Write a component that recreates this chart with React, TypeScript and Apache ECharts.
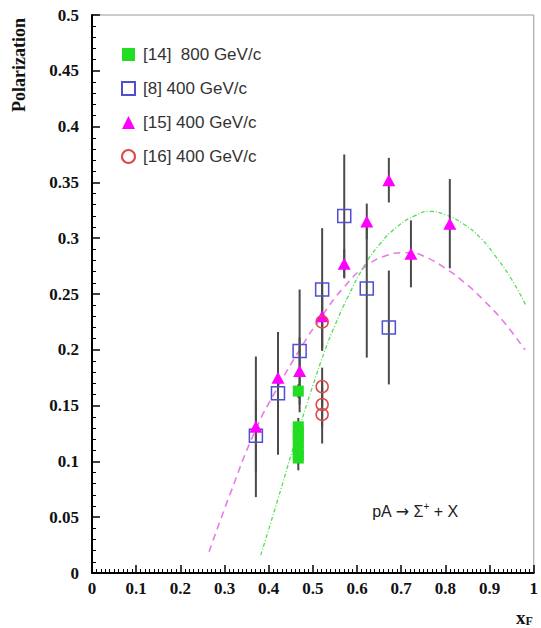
import React, { useEffect, useRef } from "react";
import * as echarts from "echarts";

// [14] 800 GeV/c (green filled squares)
const s14X = [0.467, 0.467, 0.467, 0.467, 0.467, 0.467, 0.467, 0.467];
const s14Y = [0.163, 0.131, 0.127, 0.122, 0.117, 0.111, 0.106, 0.103];
const s14Err = [0.006, 0.008, 0.008, 0.008, 0.008, 0.008, 0.008, 0.011];

// [8] 400 GeV/c (blue open squares)
const s8X = [0.371, 0.421, 0.47, 0.521, 0.571, 0.622, 0.672];
const s8Y = [0.123, 0.161, 0.199, 0.254, 0.32, 0.255, 0.22];
const s8Err = [0.032, 0.055, 0.055, 0.055, 0.055, 0.062, 0.051];

// [15] 400 GeV/c (magenta triangles)
const s15X = [0.371, 0.421, 0.47, 0.521, 0.571, 0.622, 0.672, 0.722, 0.81];
const s15Y = [0.131, 0.175, 0.181, 0.23, 0.277, 0.315, 0.352, 0.286, 0.313];
const s15Err = [0.063, 0.04, 0.03, 0.03, 0.013, 0.016, 0.02, 0.03, 0.04];

// [16] 400 GeV/c (red open circles)
const s16X = [0.521, 0.521, 0.521, 0.521];
const s16Y = [0.225, 0.167, 0.151, 0.142];
const s16Err = [0.022, 0.017, 0.02, 0.026];

// fit curves
const magentaCurveX = [0.265, 0.31, 0.37, 0.42, 0.47, 0.52, 0.57, 0.62, 0.67, 0.7, 0.72, 0.75, 0.8, 0.85, 0.885, 0.93, 0.98];
const magentaCurveY = [0.019, 0.068, 0.128, 0.166, 0.2, 0.23, 0.256, 0.275, 0.285, 0.287, 0.287, 0.284, 0.273, 0.258, 0.245, 0.226, 0.2];

const greenCurveX = [0.382, 0.42, 0.46, 0.5, 0.526, 0.55, 0.58, 0.616, 0.65, 0.69, 0.73, 0.765, 0.8, 0.84, 0.88, 0.915, 0.95, 0.982];
const greenCurveY = [0.016, 0.065, 0.118, 0.168, 0.198, 0.222, 0.248, 0.275, 0.294, 0.31, 0.32, 0.324, 0.321, 0.313, 0.3, 0.283, 0.263, 0.24];

const legendNames = ["[14]  800 GeV/c", "[8] 400 GeV/c", "[15] 400 GeV/c", "[16] 400 GeV/c"];

const pts = (xs: number[], ys: number[]) => xs.map((x, i) => [x, ys[i]]);
const errs = (xs: number[], ys: number[], es: number[]) =>
  xs.map((x, i) => [x, ys[i] - es[i], ys[i] + es[i]]);

const fmt = (v: number) => String(Math.round(v * 100) / 100);

export default function App() {
  const ref = useRef<HTMLDivElement>(null);
  useEffect(() => {
    if (!ref.current) return;
    const chart = echarts.init(ref.current, null, { renderer: "svg" });
    const errorData = [
      ...errs(s14X, s14Y, s14Err),
      ...errs(s8X, s8Y, s8Err),
      ...errs(s15X, s15Y, s15Err),
      ...errs(s16X, s16Y, s16Err),
    ];
    const axisLabel = {
      fontFamily: "Liberation Serif",
      fontWeight: "bold" as const,
      fontSize: 17,
      color: "#111",
      formatter: fmt,
    };
    chart.setOption({
      animation: false,
      backgroundColor: "#fff",
      grid: {
        left: 92,
        top: 15,
        width: 446,
        height: 558,
        show: true,
        borderColor: "#999",
        borderWidth: 1,
        backgroundColor: "#fff",
      },
      xAxis: {
        type: "value",
        min: 0,
        max: 1,
        interval: 0.1,
        axisLine: { show: true, onZero: false, lineStyle: { color: "#000", width: 2 } },
        axisTick: { show: true, inside: true, length: 8, lineStyle: { color: "#000", width: 1.5 } },
        minorTick: { show: true, splitNumber: 10, length: 4, lineStyle: { color: "#000", width: 1 } },
        splitLine: { show: false },
        axisLabel: { ...axisLabel, margin: 7 },
      },
      yAxis: {
        type: "value",
        min: 0,
        max: 0.5,
        interval: 0.05,
        axisLine: { show: true, onZero: false, lineStyle: { color: "#000", width: 2 } },
        axisTick: { show: true, inside: true, length: 8, lineStyle: { color: "#000", width: 1.5 } },
        minorTick: { show: true, splitNumber: 5, length: 4, lineStyle: { color: "#000", width: 1 } },
        splitLine: { show: false },
        axisLabel: { ...axisLabel, margin: 13 },
      },
      legend: {
        orient: "vertical",
        left: 116,
        top: 41,
        itemWidth: 13,
        itemHeight: 13,
        itemGap: 17,
        data: legendNames,
        textStyle: {
          fontFamily: "Liberation Sans",
          fontSize: 17,
          color: "#333",
          padding: [0, 0, 0, 3],
        },
      },
      graphic: [
        {
          type: "text",
          x: 19,
          y: 65,
          rotation: Math.PI / 2,
          style: {
            text: "Polarization",
            fontFamily: "Liberation Serif",
            fontWeight: "bold",
            fontSize: 18,
            fill: "#111",
            align: "center",
            verticalAlign: "middle",
          },
        },
        {
          type: "text",
          x: 516,
          y: 617,
          style: {
            text: "{a|x}{b|F}",
            align: "left",
            verticalAlign: "middle",
            rich: {
              a: { fontFamily: "Liberation Serif", fontWeight: "bold", fontSize: 19, fill: "#111" },
              b: { fontFamily: "Liberation Serif", fontWeight: "bold", fontSize: 12, fill: "#111", padding: [7, 0, 0, 0] },
            },
          },
        },
        {
          type: "text",
          x: 415,
          y: 511,
          style: {
            text: "{a|pA }{r|\u2192}{a| \u03a3}{s|+}{a| + X}",
            align: "center",
            verticalAlign: "middle",
            rich: {
              a: { fontFamily: "Liberation Sans", fontSize: 16, fill: "#222" },
              r: { fontFamily: "DejaVu Sans", fontSize: 16, fill: "#222" },
              s: { fontFamily: "Liberation Sans", fontSize: 10, fill: "#222", padding: [0, 0, 9, 0] },
            },
          },
        },
      ],
      series: [
        {
          type: "line",
          data: pts(magentaCurveX, magentaCurveY),
          smooth: true,
          showSymbol: false,
          silent: true,
          lineStyle: { color: "#e77ae7", width: 1.6, type: [7, 5] },
          z: 1,
        },
        {
          type: "line",
          data: pts(greenCurveX, greenCurveY),
          smooth: true,
          showSymbol: false,
          silent: true,
          lineStyle: { color: "#55dd55", width: 1.3, type: [4, 2, 1, 2] },
          z: 1,
        },
        {
          type: "custom",
          data: errorData,
          encode: { x: 0, y: [1, 2] },
          z: 2,
          renderItem: (_params: any, api: any) => {
            const x = api.value(0);
            const p1 = api.coord([x, api.value(1)]);
            const p2 = api.coord([x, api.value(2)]);
            return {
              type: "line",
              shape: { x1: p1[0], y1: p1[1], x2: p2[0], y2: p2[1] },
              style: { stroke: "#4a4a4a", lineWidth: 2 },
            };
          },
        },
        {
          name: legendNames[0],
          type: "scatter",
          data: pts(s14X, s14Y),
          symbol: "rect",
          symbolSize: 11,
          itemStyle: { color: "#22dd22", opacity: 1 },
          z: 3,
        },
        {
          name: legendNames[1],
          type: "scatter",
          data: pts(s8X, s8Y),
          symbol: "rect",
          symbolSize: 13,
          itemStyle: { color: "rgba(255,255,255,0)", borderColor: "#4f4fcf", borderWidth: 1.5, opacity: 1 },
          z: 4,
        },
        {
          name: legendNames[2],
          type: "scatter",
          data: pts(s15X, s15Y),
          symbol: "triangle",
          symbolSize: [13, 12],
          itemStyle: { color: "#ff00ff", opacity: 1 },
          z: 5,
        },
        {
          name: legendNames[3],
          type: "scatter",
          data: pts(s16X, s16Y),
          symbol: "circle",
          symbolSize: 12,
          itemStyle: { color: "rgba(255,255,255,0)", borderColor: "#e04848", borderWidth: 1.5, opacity: 1 },
          z: 6,
        },
      ],
    });
    return () => chart.dispose();
  }, []);
  return (
    <div
      ref={ref}
      style={{ position: "absolute", left: 0, top: 0, width: 541, height: 628 }}
    />
  );
}
